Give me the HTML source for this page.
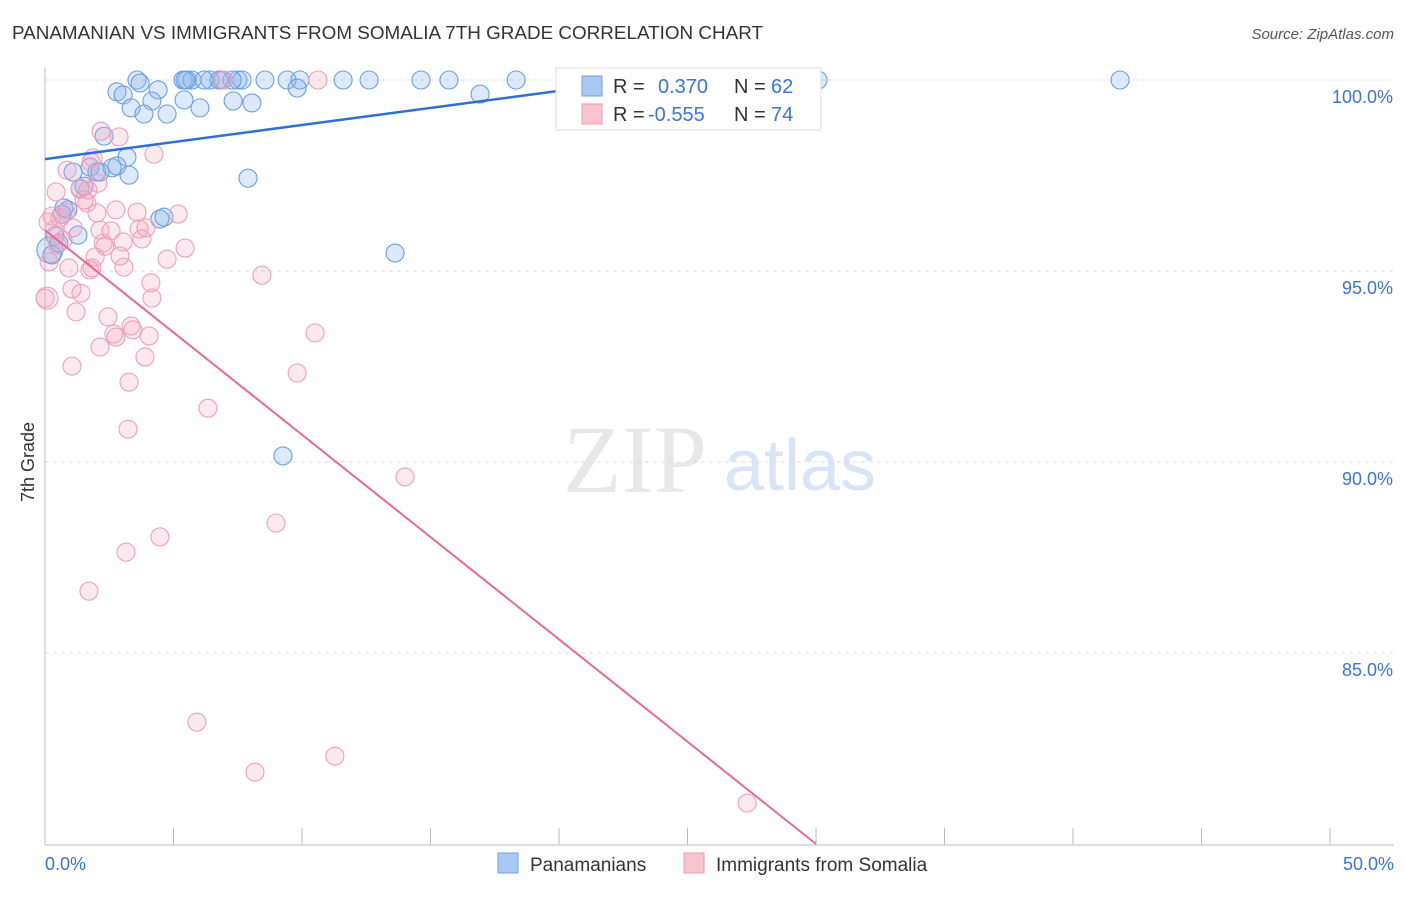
<!DOCTYPE html>
<html><head><meta charset="utf-8"><style>
body{margin:0;background:#fff;font-family:"Liberation Sans",sans-serif;}
</style></head><body>
<svg width="1406" height="892" xmlns="http://www.w3.org/2000/svg">
<text x="12" y="39" font-size="18" fill="#333" textLength="751" lengthAdjust="spacingAndGlyphs">PANAMANIAN VS IMMIGRANTS FROM SOMALIA 7TH GRADE CORRELATION CHART</text>
<text x="1394" y="39" font-size="15" fill="#555" font-style="italic" text-anchor="end">Source: ZipAtlas.com</text>
<text x="635" y="492" font-size="96" fill="#e8e8e8" font-family="Liberation Serif" text-anchor="middle">ZIP</text>
<text x="800" y="490" font-size="72" fill="#d9e5f6" text-anchor="middle">atlas</text>
<g id="grid"></g>
<g id="axes"></g>
<g id="pts"></g>
<g id="lines"></g>
<text x="34" y="462" font-size="18" fill="#333" transform="rotate(-90 34 462)" text-anchor="middle">7th Grade</text>
<g>
<rect x="556" y="68" width="265" height="62" fill="#fff" stroke="#ddd"/>
<rect x="582" y="76" width="20" height="20" fill="#a9c8f2" stroke="#6fa0e0"/>
<rect x="582" y="104" width="20" height="20" fill="#f9c4d2" stroke="#ef9ab2"/>
<text x="613" y="93" font-size="20" fill="#333">R = </text><text x="658" y="93" font-size="20" fill="#3a74d4">0.370</text>
<text x="734" y="93" font-size="20" fill="#333">N = </text><text x="771" y="93" font-size="20" fill="#3a74d4">62</text>
<text x="613" y="121" font-size="20" fill="#333">R = </text><text x="648" y="121" font-size="20" fill="#3a74d4">-0.555</text>
<text x="734" y="121" font-size="20" fill="#333">N = </text><text x="771" y="121" font-size="20" fill="#3a74d4">74</text>
</g>
<g>
<rect x="498" y="853" width="20" height="20" fill="#a9c8f2" stroke="#6fa0e0"/>
<text x="530" y="871" font-size="19" fill="#333">Panamanians</text>
<rect x="684" y="853" width="20" height="20" fill="#f9c4d2" stroke="#ef9ab2"/>
<text x="716" y="871" font-size="19" fill="#333">Immigrants from Somalia</text>
</g>
</svg>
<script>
const xTicks=[0,5,10,15,20,25,30,35,40,45,50];
const yTicks=[100,95,90,85];
const blueX=[3.58,3.70,5.37,5.53,5.72,5.45,6.42,6.89,7.51,7.67,8.56,9.42,9.92,9.81,11.60,12.61,14.63,15.72,18.33,23.07,30.08,41.83,2.80,3.04,4.40,4.16,5.41,7.32,8.05,3.35,3.85,4.75,6.03,16.93,2.30,3.19,1.75,2.02,2.61,2.80,3.27,1.52,1.36,7.90,1.09,0.89,0.66,4.47,4.63,1.28,0.39,0.19,0.27,13.62,9.26,7.28,6.77,6.19,0.54,2.14,0.74];
const blueY=[100,99.92,100,100,100,100,100,100,100,100,100,100,100,99.79,100,100,100,100,100,100,100,100,99.69,99.61,99.74,99.45,99.48,99.45,99.40,99.27,99.11,99.11,99.27,99.63,98.53,97.98,97.72,97.59,97.70,97.75,97.51,97.22,97.15,97.43,97.59,96.60,96.49,96.36,96.41,95.94,95.92,95.55,95.42,95.47,90.16,100,100,100,95.73,97.59,96.65];
const pinkX=[6.96,10.62,2.18,2.88,4.24,1.87,0.86,2.06,1.36,0.43,1.52,1.63,2.76,3.58,5.18,0.27,0.58,2.02,0.12,1.09,2.57,3.66,3.93,0.70,2.26,3.04,3.77,5.45,2.33,0.16,0.93,1.83,3.07,4.75,1.95,8.44,4.12,1.05,1.40,4.16,0.08,1.21,2.45,3.35,3.42,2.68,2.76,4.05,10.51,2.14,3.89,1.05,9.81,3.27,6.34,3.23,14.01,8.99,4.47,3.15,1.71,5.91,11.28,8.17,27.32,1.67,2.14,0.47,2.92,0.35,0.82,0.0,1.79,1.75];
const pinkY=[100,100,98.66,98.51,98.06,97.96,97.64,97.30,97.17,97.07,96.86,96.78,96.60,96.54,96.49,96.44,96.39,96.52,96.28,96.13,96.05,96.10,96.13,95.81,95.73,95.76,95.84,95.60,95.65,95.24,95.08,95.08,95.10,95.31,95.37,94.89,94.69,94.53,94.42,94.29,94.29,93.93,93.80,93.56,93.46,93.35,93.27,93.30,93.38,93.01,92.75,92.51,92.33,92.09,91.41,90.86,89.61,88.40,88.04,87.64,86.62,83.19,82.30,81.88,81.07,97.12,96.07,95.68,95.39,96.07,96.54,94.29,97.85,95.03];
const blueLine=[[0,97.93],[23.2,100]];
const pinkLine=[[0,96.07],[30,80]];
const X=v=>45+v*1285/50, Y=v=>80+(100-v)*191/5;
const NS='http://www.w3.org/2000/svg';
function mk(t,a,p){const e=document.createElementNS(NS,t);for(const k in a)e.setAttribute(k,a[k]);p.appendChild(e);return e;}
const grid=document.getElementById('grid'),axes=document.getElementById('axes'),pts=document.getElementById('pts'),lines=document.getElementById('lines');
yTicks.forEach(t=>{const l=mk('line',{x1:45,x2:1394,y1:Y(t),y2:Y(t),stroke:'#ddd','stroke-dasharray':'4,4'},grid);


const tx=mk('text',{x:1393,y:Y(t)+23,'font-size':18,fill:'#3a74d4','text-anchor':'end'},axes);tx.textContent=t.toFixed(1)+'%';

});
const xa=mk('line',{x1:45,x2:1394,y1:845,y2:845,stroke:'#bbb'},axes);


const ya=mk('line',{x1:45,x2:45,y1:68,y2:845,stroke:'#bbb'},axes);


xTicks.forEach(t=>{const l=mk('line',{x1:X(t),x2:X(t),y1:828,y2:845,stroke:'#bbb'},axes);

});
[[0,'0.0%','start',45],[50,'50.0%','end',1394]].forEach(([v,s,a,x])=>{const t=mk('text',{x:x,y:870,'font-size':18,fill:'#3a74d4','text-anchor':a},axes);t.textContent=s;

});
blueX.forEach((v,i)=>{const c=mk('circle',{cx:X(v),cy:Y(blueY[i]),r:(i==51?13:9),fill:'rgba(140,182,238,0.3)',stroke:'#6a9fe2','stroke-width':1.1},pts);

});
pinkX.forEach((v,i)=>{const c=mk('circle',{cx:X(v),cy:Y(pinkY[i]),r:(i==40?11:9),fill:'rgba(245,165,190,0.25)',stroke:'#f0a0b8','stroke-width':1.1},pts);

});
const bl=mk('line',{x1:X(blueLine[0][0]),y1:Y(blueLine[0][1]),x2:X(blueLine[1][0]),y2:Y(blueLine[1][1]),stroke:'#2c6fd6','stroke-width':2.5},lines);


const pl=mk('line',{x1:X(pinkLine[0][0]),y1:Y(pinkLine[0][1]),x2:X(pinkLine[1][0]),y2:Y(pinkLine[1][1]),stroke:'#e8689a','stroke-width':2},lines);


</script>
</body></html>
